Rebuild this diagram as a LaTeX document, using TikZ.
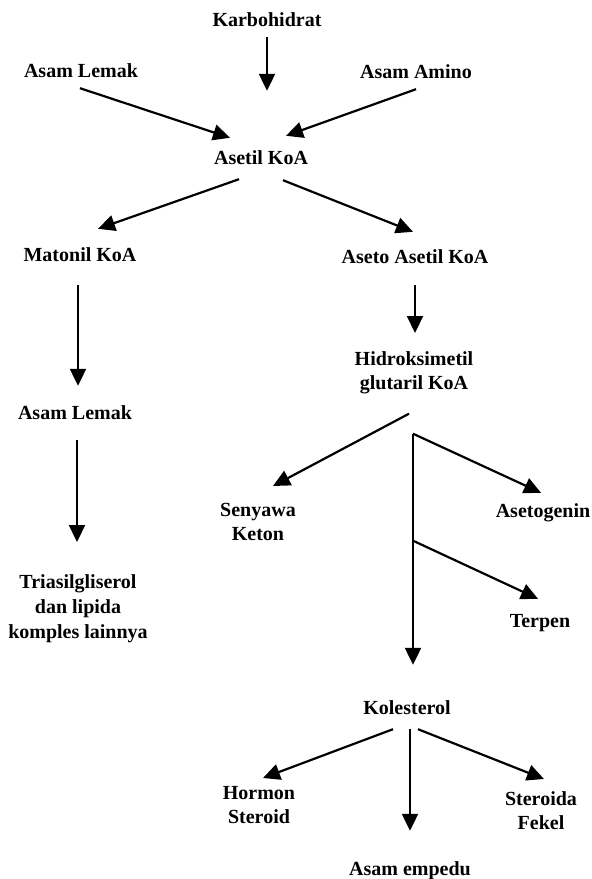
\documentclass[tikz,border=0pt]{standalone}
\usepackage{fontspec}
\setmainfont{Liberation Serif}
\usetikzlibrary{arrows.meta,positioning,calc}

\begin{document}
\begin{tikzpicture}[
  x=1pt,y=-1pt,>={Triangle[length=17pt,width=16pt]},
  lbl/.style={inner sep=0pt,font=\fontsize{20}{24}\selectfont\bfseries,text height=14pt,text depth=4pt},
  mlbl/.style={inner sep=0pt,anchor=north,align=center,font=\fontsize{20}{24}\selectfont\bfseries},
  arr/.style={->,line width=2.2pt,black}
]
  \useasboundingbox (0,0) rectangle (592,879);

  % Sources of acetyl CoA
  \node[lbl] (karbo)  at (267,21)  {Karbohidrat};
  \node[lbl] (lemakA) at (81,72)   {Asam Lemak};
  \node[lbl] (amino)  at (416,73)  {Asam Amino};
  \node[lbl] (asetil) at (261,159) {Asetil KoA};

  % Left branch
  \node[lbl]  (matonil) at (80,256) {Matonil KoA};
  \node[lbl]  (lemakB)  at (75,414) {Asam Lemak};
  \node[mlbl,font=\fontsize{20}{25}\selectfont\bfseries] (triasil) at (78,574) {Triasilgliserol\\dan lipida\\komples lainnya};

  % Right branch
  \node[lbl]  (aseto)      at (415,258) {Aseto Asetil KoA};
  \node[mlbl] (hidro)      at (414,351) {Hidroksimetil\\glutaril KoA};
  \node[mlbl] (senyawa)    at (258,503) {Senyawa\\Keton};
  \node[lbl]  (asetogenin) at (543,512) {Asetogenin};
  \node[lbl]  (terpen)     at (540,622) {Terpen};
  \node[lbl]  (kolesterol) at (407,709) {Kolesterol};

  % Cholesterol products
  \node[mlbl] (hormon)   at (259,786) {Hormon\\Steroid};
  \node[mlbl] (steroida) at (541,791) {Steroida\\Fekel};
  \node[lbl]  (empedu)   at (410,870) {Asam empedu};

  % Top arrows
  \draw[arr] ([yshift=-7pt]karbo.south) -- ([xshift=6pt,yshift=59pt]asetil.north);
  \draw[arr] ([xshift=-1pt,yshift=-7pt]lemakA.south) -- ([xshift=-31pt,yshift=12pt]asetil.north);
  \draw[arr] ([yshift=-7pt]amino.south) -- ([xshift=25pt,yshift=14pt]asetil.north);
  \draw[arr] ([xshift=-22pt,yshift=-11pt]asetil.south) -- ([xshift=18pt,yshift=18pt]matonil.north);
  \draw[arr] ([xshift=22pt,yshift=-12pt]asetil.south)  -- ([xshift=-2pt,yshift=17pt]aseto.north);

  % Left column
  \draw[arr] ([xshift=-2pt,yshift=-20pt]matonil.south) -- ([xshift=3pt,yshift=19pt]lemakB.north);
  \draw[arr] ([xshift=2pt,yshift=-17pt]lemakB.south)  -- ([xshift=-1pt,yshift=32pt]triasil.north);

  % Right column
  \draw[arr] ([yshift=-18pt]aseto.south) -- ([xshift=1pt,yshift=18pt]hidro.north);
  \coordinate (fork)   at ([xshift=-1pt,yshift=-40pt]hidro.south);
  \coordinate (fork2)  at ($(fork)+(0,107)$);
  \coordinate (kolTop) at ([yshift=35pt]kolesterol.north);
  \draw[arr] ([xshift=-5pt,yshift=-20pt]hidro.south) -- ([xshift=15pt,yshift=17pt]senyawa.north);
  \draw[arr] (fork)  -- (fork |- kolTop);
  \draw[arr] (fork)  -- ([xshift=-2pt,yshift=10pt]asetogenin.north);
  \draw[arr] (fork2) -- ([xshift=-2pt,yshift=14pt]terpen.north);

  % Bottom arrows
  \draw[arr] ([xshift=-14pt,yshift=-11pt]kolesterol.south) -- ([xshift=4pt,yshift=8pt]hormon.north);
  \draw[arr] ([xshift=3pt,yshift=-11pt]kolesterol.south)   -- ([yshift=30pt]empedu.north);
  \draw[arr] ([xshift=11pt,yshift=-11pt]kolesterol.south)  -- ([xshift=3pt,yshift=12pt]steroida.north);
\end{tikzpicture}
\end{document}
